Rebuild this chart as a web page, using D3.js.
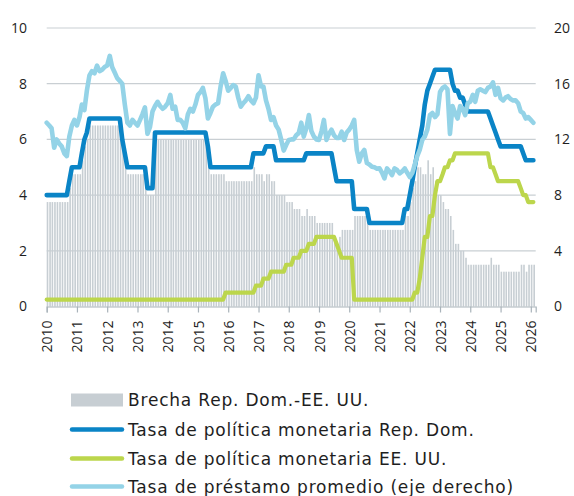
<!DOCTYPE html>
<html>
<head>
<meta charset="utf-8">
<script src="https://cdn.jsdelivr.net/npm/d3@7"></script>
<style>
  body { margin: 0; background: #fff; }
  text { font-family: 'Open Sans', sans-serif; fill: #1e1e1e; }
</style>
</head>
<body>
<svg id="chart" width="574" height="496"></svg>
<script>
// monthly series, Jan 2010 .. Feb 2026
var firstMonth = new Date(2010, 0, 1);

// Tasa de politica monetaria Rep. Dom. (%)
var drRate = [
  4, 4, 4, 4, 4, 4, 4, 4, 4, 4.5, 5, 5,
  5, 5, 5.5, 6, 6.25, 6.75, 6.75, 6.75, 6.75, 6.75, 6.75, 6.75,
  6.75, 6.75, 6.75, 6.75, 6.75, 6.75, 6, 5.5, 5, 5, 5, 5,
  5, 5, 5, 5, 4.25, 4.25, 4.25, 6.25, 6.25, 6.25, 6.25, 6.25,
  6.25, 6.25, 6.25, 6.25, 6.25, 6.25, 6.25, 6.25, 6.25, 6.25, 6.25, 6.25,
  6.25, 6.25, 6.25, 6.25, 5.75, 5, 5, 5, 5, 5, 5, 5,
  5, 5, 5, 5, 5, 5, 5, 5, 5, 5, 5.5, 5.5,
  5.5, 5.5, 5.5, 5.75, 5.75, 5.75, 5.75, 5.25, 5.25, 5.25, 5.25, 5.25,
  5.25, 5.25, 5.25, 5.25, 5.25, 5.25, 5.25, 5.5, 5.5, 5.5, 5.5, 5.5,
  5.5, 5.5, 5.5, 5.5, 5.5, 5.5, 5, 4.5, 4.5, 4.5, 4.5, 4.5,
  4.5, 4.5, 3.5, 3.5, 3.5, 3.5, 3.5, 3.5, 3, 3, 3, 3,
  3, 3, 3, 3, 3, 3, 3, 3, 3, 3, 3.5, 3.5,
  4, 4.5, 5, 5.5, 6, 6.5, 7.25, 7.75, 8, 8.25, 8.5, 8.5,
  8.5, 8.5, 8.5, 8.5, 8.5, 8, 7.75, 7.75, 7.5, 7.5, 7.25, 7,
  7, 7, 7, 7, 7, 7, 7, 7, 6.75, 6.5, 6.25, 6,
  5.75, 5.75, 5.75, 5.75, 5.75, 5.75, 5.75, 5.75, 5.75, 5.5, 5.25, 5.25,
  5.25, 5.25
];

// Tasa de politica monetaria EE. UU. (%)
var usRate = [
  0.25, 0.25, 0.25, 0.25, 0.25, 0.25, 0.25, 0.25, 0.25, 0.25, 0.25, 0.25,
  0.25, 0.25, 0.25, 0.25, 0.25, 0.25, 0.25, 0.25, 0.25, 0.25, 0.25, 0.25,
  0.25, 0.25, 0.25, 0.25, 0.25, 0.25, 0.25, 0.25, 0.25, 0.25, 0.25, 0.25,
  0.25, 0.25, 0.25, 0.25, 0.25, 0.25, 0.25, 0.25, 0.25, 0.25, 0.25, 0.25,
  0.25, 0.25, 0.25, 0.25, 0.25, 0.25, 0.25, 0.25, 0.25, 0.25, 0.25, 0.25,
  0.25, 0.25, 0.25, 0.25, 0.25, 0.25, 0.25, 0.25, 0.25, 0.25, 0.25, 0.5,
  0.5, 0.5, 0.5, 0.5, 0.5, 0.5, 0.5, 0.5, 0.5, 0.5, 0.5, 0.75,
  0.75, 0.75, 1, 1, 1, 1.25, 1.25, 1.25, 1.25, 1.25, 1.25, 1.5,
  1.5, 1.5, 1.75, 1.75, 1.75, 2, 2, 2, 2.25, 2.25, 2.25, 2.5,
  2.5, 2.5, 2.5, 2.5, 2.5, 2.5, 2.5, 2.25, 2, 1.75, 1.75, 1.75,
  1.75, 1.75, 0.25, 0.25, 0.25, 0.25, 0.25, 0.25, 0.25, 0.25, 0.25, 0.25,
  0.25, 0.25, 0.25, 0.25, 0.25, 0.25, 0.25, 0.25, 0.25, 0.25, 0.25, 0.25,
  0.25, 0.25, 0.5, 0.5, 1, 1.75, 2.5, 2.5, 3.25, 3.25, 4, 4.5,
  4.5, 4.75, 5, 5, 5.25, 5.25, 5.5, 5.5, 5.5, 5.5, 5.5, 5.5,
  5.5, 5.5, 5.5, 5.5, 5.5, 5.5, 5.5, 5.5, 5, 5, 4.75, 4.5,
  4.5, 4.5, 4.5, 4.5, 4.5, 4.5, 4.5, 4.5, 4.25, 4, 4, 3.75,
  3.75, 3.75
];

// Brecha Rep. Dom. - EE. UU. (p.p.)
var gap = [
  3.75, 3.75, 3.75, 3.75, 3.75, 3.75, 3.75, 3.75, 3.75, 4.25, 4.75, 4.75,
  4.75, 4.75, 5.25, 5.75, 6, 6.5, 6.5, 6.5, 6.5, 6.5, 6.5, 6.5,
  6.5, 6.5, 6.5, 6.5, 6.5, 6.5, 5.75, 5.25, 4.75, 4.75, 4.75, 4.75,
  4.75, 4.75, 4.75, 4.75, 4, 4, 4, 6, 6, 6, 6, 6,
  6, 6, 6, 6, 6, 6, 6, 6, 6, 6, 6, 6,
  6, 6, 6, 6, 5.5, 4.75, 4.75, 4.75, 4.75, 4.75, 4.75, 4.5,
  4.5, 4.5, 4.5, 4.5, 4.5, 4.5, 4.5, 4.5, 4.5, 4.5, 5, 4.75,
  4.75, 4.75, 4.5, 4.75, 4.75, 4.5, 4.5, 4, 4, 4, 4, 3.75,
  3.75, 3.75, 3.5, 3.5, 3.5, 3.25, 3.25, 3.5, 3.25, 3.25, 3.25, 3,
  3, 3, 3, 3, 3, 3, 2.5, 2.25, 2.5, 2.75, 2.75, 2.75,
  2.75, 2.75, 3.25, 3.25, 3.25, 3.25, 3.25, 3.25, 2.75, 2.75, 2.75, 2.75,
  2.75, 2.75, 2.75, 2.75, 2.75, 2.75, 2.75, 2.75, 2.75, 2.75, 3.25, 3.25,
  3.75, 4.25, 4.5, 5, 5, 4.75, 4.75, 5.25, 4.75, 5, 4.5, 4,
  4, 3.75, 3.5, 3.5, 3.25, 2.75, 2.25, 2.25, 2, 2, 1.75, 1.5,
  1.5, 1.5, 1.5, 1.5, 1.5, 1.5, 1.5, 1.5, 1.75, 1.5, 1.5, 1.5,
  1.25, 1.25, 1.25, 1.25, 1.25, 1.25, 1.25, 1.25, 1.5, 1.5, 1.25, 1.5,
  1.5, 1.5
];

// Tasa de prestamo promedio (%), eje derecho
var lendingRate = [
  13.2, 13.0, 12.8, 11.4, 12.0, 11.7, 11.5, 11.0, 10.8, 12.2, 13.0, 13.4,
  13.0, 13.6, 14.5, 14.1, 15.5, 16.6, 16.9, 16.75, 17.3, 16.9, 17.0, 17.2,
  17.3, 18.0, 17.2, 16.8, 16.4, 16.2, 16.0, 14.5, 13.2, 13.0, 13.4, 13.2,
  13.0, 13.4, 13.8, 14.3, 12.4, 12.9, 14.0, 14.4, 14.7, 14.4, 14.2, 14.35,
  14.6, 15.2, 14.2, 14.35, 13.4, 13.4, 13.2, 12.8, 13.8, 14.2, 14.0, 14.5,
  15.2, 15.4, 15.7, 14.95, 13.5, 13.9, 14.35, 14.5, 14.6, 15.8, 16.75, 16.2,
  15.5, 15.7, 15.9, 15.8, 15.0, 14.35, 14.6, 14.8, 15.1, 14.8, 14.6, 15.0,
  16.6, 15.8, 15.8, 14.8, 14.2, 13.4, 13.6, 13.0, 12.7, 12.0, 11.2, 11.6,
  11.96, 12.0, 12.0, 12.3, 12.45, 13.2, 12.2, 12.8, 13.75, 12.6, 12.2, 12.0,
  11.96, 12.6, 13.4, 11.96, 12.4, 12.7, 12.3, 12.1, 12.1, 12.55, 11.96, 12.5,
  12.7, 13.0, 13.4, 11.24, 10.4, 11.0, 11.24, 10.3, 10.2, 10.04, 10.0, 9.9,
  9.92, 9.6, 9.2, 9.92, 9.7, 9.44, 9.92, 9.8, 9.56, 9.7, 9.92, 9.6,
  9.3, 9.6, 10.16, 10.8, 11.24, 11.96, 12.2, 12.7, 13.75, 13.9, 13.6, 13.8,
  15.4, 15.7, 15.8, 15.6, 12.4, 14.4, 13.9, 13.5, 14.4, 14.2, 13.75, 14.6,
  14.7, 15.2, 14.7, 15.5, 15.6, 15.5, 15.4, 15.7, 15.8, 16.1, 15.2, 15.7,
  14.95, 14.8, 15.0, 15.1, 14.9, 14.8, 14.8, 14.6, 14.0, 13.9, 13.5, 13.6,
  13.4, 13.2
];

var yearTicks = [2010, 2011, 2012, 2013, 2014, 2015, 2016, 2017, 2018,
  2019, 2020, 2021, 2022, 2023, 2024, 2025, 2026];
var leftTicks = [0, 2, 4, 6, 8, 10];
var rightTicks = [0, 4, 8, 12, 16, 20];

var legendLabels = [
  'Brecha Rep. Dom.-EE. UU.',
  'Tasa de política monetaria Rep. Dom.',
  'Tasa de política monetaria EE. UU.',
  'Tasa de préstamo promedio (eje derecho)'
];

var colorGap = '#c7ced3';
var colorDR = '#0a84c6';
var colorUS = '#bcd64c';
var colorLend = '#94d3e7';
var gridColor = '#c9cfd3';

var plotLeft = 46.7, plotRight = 535.7, plotTop = 28, plotBottom = 306.5;

var svg = d3.select('#chart');

var x = d3.scaleTime()
  .domain([new Date(2010, 0, 1), new Date(2026, 2, 1)])
  .range([plotLeft, plotRight]);
var yL = d3.scaleLinear().domain([0, 10]).range([plotBottom, plotTop]);
var yR = d3.scaleLinear().domain([0, 20]).range([plotBottom, plotTop]);

function monthDate(i) { return d3.timeMonth.offset(firstMonth, i); }

// gridlines
svg.append('g')
  .selectAll('line')
  .data(leftTicks.slice(1))
  .join('line')
  .attr('x1', plotLeft)
  .attr('x2', plotRight)
  .attr('y1', d => yL(d))
  .attr('y2', d => yL(d))
  .attr('stroke', gridColor)
  .attr('stroke-width', 1.2);

// bars
svg.append('g')
  .selectAll('rect')
  .data(gap)
  .join('rect')
  .attr('x', (d, i) => x(monthDate(i)))
  .attr('width', 1.6)
  .attr('y', d => yL(d))
  .attr('height', d => yL(0) - yL(d))
  .attr('fill', colorGap);

// x axis
var xAxis = svg.append('g')
  .attr('transform', 'translate(0,' + plotBottom + ')')
  .call(d3.axisBottom(x)
    .tickValues(yearTicks.map(y => new Date(y, 0, 1)))
    .tickFormat(d3.timeFormat('%Y'))
    .tickSize(6));
xAxis.select('.domain').attr('stroke', '#a9b3ba').attr('stroke-width', 1.2);
xAxis.selectAll('.tick line').attr('stroke', '#a9b3ba').attr('stroke-width', 1.2);
xAxis.selectAll('.tick text')
  .attr('transform', 'rotate(-90)')
  .attr('text-anchor', 'end')
  .attr('x', -14)
  .attr('y', 0)
  .attr('dy', '0.36em')
  .attr('dx', 0)
  .style('font-size', '14px')
  .style('font-family', "'Open Sans', sans-serif")
  .attr('fill', '#1e1e1e');

// left axis labels
svg.append('g')
  .selectAll('text')
  .data(leftTicks)
  .join('text')
  .attr('x', 27)
  .attr('y', d => yL(d))
  .attr('dy', '0.35em')
  .attr('text-anchor', 'end')
  .style('font-size', '14px')
  .text(d => d);

// right axis labels
svg.append('g')
  .selectAll('text')
  .data(rightTicks)
  .join('text')
  .attr('x', 554)
  .attr('y', d => yR(d))
  .attr('dy', '0.35em')
  .attr('text-anchor', 'start')
  .style('font-size', '14px')
  .text(d => d);

// lines
function drawLine(values, yScale, color, width) {
  var line = d3.line()
    .x((d, i) => x(monthDate(i)))
    .y(d => yScale(d));
  svg.append('path')
    .datum(values)
    .attr('d', line)
    .attr('fill', 'none')
    .attr('stroke', color)
    .attr('stroke-width', width)
    .attr('stroke-linejoin', 'round')
    .attr('stroke-linecap', 'round');
}
drawLine(usRate, yL, colorUS, 4.2);
drawLine(drRate, yL, colorDR, 4.6);
drawLine(lendingRate, yR, colorLend, 4.6);

// legend
var legend = svg.append('g');
var legendY = [400, 429.5, 458.5, 486.5];
var legendColors = [colorGap, colorDR, colorUS, colorLend];
legendLabels.forEach((label, i) => {
  if (i === 0) {
    legend.append('rect')
      .attr('x', 71).attr('y', legendY[i] - 6.5)
      .attr('width', 52).attr('height', 13)
      .attr('fill', colorGap);
  } else {
    legend.append('line')
      .attr('x1', 72).attr('x2', 122)
      .attr('y1', legendY[i]).attr('y2', legendY[i])
      .attr('stroke', legendColors[i])
      .attr('stroke-width', 4.5)
      .attr('stroke-linecap', 'round');
  }
  legend.append('text')
    .attr('x', 128)
    .attr('y', legendY[i])
    .attr('dy', '0.36em')
    .style('font-family', "'DejaVu Sans', sans-serif")
    .style('font-size', '17px')
    .style('letter-spacing', '0.8px')
    .text(label);
});
</script>
</body>
</html>
